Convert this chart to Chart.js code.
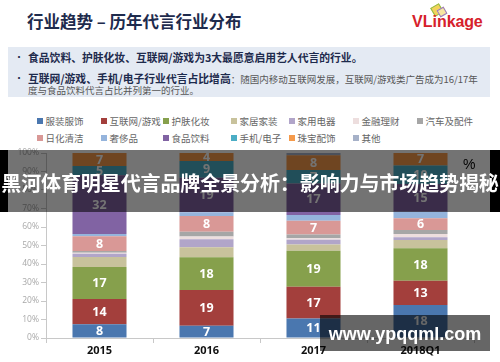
<!DOCTYPE html>
<html>
<head>
<meta charset="utf-8">
<script src="https://cdn.jsdelivr.net/npm/chart.js@4.4.1/dist/chart.umd.min.js"></script>
<style>
  html, body { margin:0; padding:0; background:#fff; }
  body { width:500px; height:362px; position:relative; overflow:hidden; font-family:"Noto Sans CJK SC","Noto Sans",sans-serif; }
  .abs { position:absolute; white-space:nowrap; }
  #title { left:27px; top:8px; font-size:16.5px; font-weight:700; color:#1e2b4d; line-height:26px; }
  #logo { left:412px; top:12px; font-family:"Liberation Sans",Arial,sans-serif; font-size:16px; color:#d6212b; line-height:20px; }
  #logo b { font-weight:700; }
  #logo span { font-weight:700; letter-spacing:-0.2px; }
  .ico { position:absolute; width:8px; height:8px; transform:rotate(-30deg); }
  #box { left:8px; top:47px; width:482px; height:50px; background:#e4eaf3; }
  .ln { position:absolute; left:20px; white-space:nowrap; color:#575757; font-size:9.5px; line-height:12px; }
  .ln b { color:#1e2b4d; font-size:10.8px; font-weight:700; }
  .bul { position:absolute; left:6px; color:#1e2b4d; font-size:10px; line-height:12px; }
  .lg { position:absolute; white-space:nowrap; font-size:9.5px; color:#666; line-height:12px; }
  .lg i { display:inline-block; width:6px; height:6px; margin-right:2.5px; vertical-align:1px; }
  #chartWrap { position:absolute; left:0; top:145px; width:500px; height:217px; }
  #pct { left:463px; top:156px; font-size:14px; color:#000; font-family:"Liberation Sans",Arial,sans-serif; }
  #banner { left:0; top:150px; width:500px; height:62px; background:rgba(0,0,0,0.55); }
  #banner .edgeL { position:absolute; left:0; top:0; width:8px; height:62px; background:#000; }
  #banner .edgeR { position:absolute; right:0; top:0; width:10px; height:62px; background:#000; }
  #bannerText { left:0; top:168px; width:500px; text-align:center; font-size:20px; font-weight:700; color:#fff; line-height:30px; letter-spacing:-0.1px; }
  #wm { left:320px; top:315px; width:170px; height:36px; background:rgba(0,0,0,0.6); }
  #wmText { left:320px; top:323px; width:170px; text-align:center; font-family:"Liberation Sans",Arial,sans-serif; font-size:18px; font-weight:700; color:#fff; line-height:22px; }
</style>
</head>
<body>
<div id="title" class="abs">行业趋势 – 历年代言行业分布</div>
<div class="ico" style="left:432px;top:5px;border:1.5px solid #8dbb4a;background:#f3d35a;"></div>
<div class="ico" style="left:438px;top:8px;border:1.5px solid #9a7bc0;background:#f7e7a0;width:6px;height:6px;"></div>
<div id="logo" class="abs"><b>VLink</b><span>age</span></div>

<div id="box" class="abs">
  <div class="bul" style="top:4px;">•</div>
  <div class="ln" style="top:4px;"><b>食品饮料、护肤化妆、互联网/游戏为3大最愿意启用艺人代言的行业。</b></div>
  <div class="bul" style="top:25px;">•</div>
  <div class="ln" style="top:25px;"><b>互联网/游戏、手机/电子行业代言占比增高</b>：随国内移动互联网发展，互联网/游戏类广告成为16/17年</div>
  <div class="ln" style="top:37px;">度与食品饮料代言占比并列第一的行业。</div>
</div>

<div id="legend"></div>

<div id="chartWrap"><canvas id="c"></canvas></div>
<div id="pct" class="abs">%</div>

<div id="banner" class="abs"><div class="edgeL"></div><div class="edgeR"></div></div>
<div id="bannerText" class="abs">黑河体育明星代言品牌全景分析：影响力与市场趋势揭秘</div>
<div id="wm" class="abs"></div>
<div id="wmText" class="abs">www.ypqqml.com</div>

<script>
// ---- data (percent share) ----
const categories = ['2015', '2016', '2017', '2018Q1'];
const seriesNames = ['服装服饰','互联网/游戏','护肤化妆','家居家装','家用电器','金融理财','汽车及配件','日化清洁','奢侈品','食品饮料','手机/电子','珠宝配饰','其他'];
const apparel      = [7.5, 6.6, 10.6, 17.8];
const internetGame = [13.6, 19.4, 17.1, 13.2];
const skincare     = [17.3, 17.6, 19.4, 17.5];
const homeDecor    = [5.4, 5.4, 3.5, 4.5];
const appliances   = [1.7, 4.4, 2.5, 1.4];
const finance      = [0.6, 1.4, 0.8, 1.8];
const autos        = [0.9, 2.7, 2.1, 2.2];
const dailyCare    = [8.0, 8.4, 7.4, 6.3];
const luxury       = [1.2, 2.1, 3.1, 3.6];
const foodDrink    = [31.8, 18.6, 17.0, 15.0];
const phones       = [5.0, 9.1, 7.3, 10.0];
const jewelry      = [7.0, 4.3, 8.0, 6.7];
const others       = [0.0, 0.0, 1.2, 0.0];
const yTickLabels  = ['0%','10%','20%','30%','40%','50%','60%','70%','80%','90%','100%'];

const seriesValues = [apparel, internetGame, skincare, homeDecor, appliances, finance, autos, dailyCare, luxury, foodDrink, phones, jewelry, others];
const seriesColors = ['#4a77af','#a33f3c','#86a04c','#c8c29c','#b1a5c9','#eddede','#a6a6a6','#d99896','#95b4dc','#8163a3','#4badc5','#f59a4b','#a6b1c8'];
const labelled     = [true, true, true, false, false, false, false, true, false, true, true, true, false];

// ---- legend (HTML, built from series) ----
const legendCols = [37, 101, 163, 231, 289, 353, 417];
const legend = document.getElementById('legend');
seriesNames.forEach((n, i) => {
  const d = document.createElement('div');
  d.className = 'lg';
  d.style.left = legendCols[i % 7] + 'px';
  d.style.top = (i < 7 ? 114.5 : 132) + 'px';
  d.innerHTML = '<i style="background:' + seriesColors[i] + '"></i>' + n;
  legend.appendChild(d);
});

const segLabels = {
  id: 'segLabels',
  afterDatasetsDraw(chart) {
    const ctx = chart.ctx;
    chart.data.datasets.forEach((ds, i) => {
      if (!ds.showLabel) return;
      const meta = chart.getDatasetMeta(i);
      meta.data.forEach((bar, j) => {
        const v = ds.data[j];
        if (!v) return;
        const p = bar.getProps(['x', 'y', 'base'], true);
        ctx.save();
        ctx.fillStyle = '#ffffff';
        ctx.font = 'bold 12.5px "Open Sans", sans-serif';
        ctx.textAlign = 'center';
        ctx.textBaseline = 'middle';
        ctx.fillText(String(Math.round(v)), p.x, (p.y + p.base) / 2 + 0.5);
        ctx.restore();
      });
    });
  }
};

new Chart(document.getElementById('c'), {
  type: 'bar',
  data: {
    labels: categories,
    datasets: seriesNames.map((n, i) => ({
      label: n,
      data: seriesValues[i],
      backgroundColor: seriesColors[i],
      borderWidth: 0,
      showLabel: labelled[i],
      categoryPercentage: 1,
      barPercentage: 0.505
    }))
  },
  options: {
    responsive: true,
    maintainAspectRatio: false,
    animation: false,
    layout: { padding: { top: 8, right: 26, left: 0, bottom: 0 } },
    plugins: { legend: { display: false }, tooltip: { enabled: false } },
    scales: {
      x: {
        stacked: true,
        grid: { display: true, drawOnChartArea: false, drawTicks: true, tickLength: 5, color: '#c8c8c8', offset: true },
        border: { display: true, color: '#c8c8c8' },
        ticks: { color: '#111', font: { family: '"Open Sans", sans-serif', size: 11, weight: 'bold' }, padding: 1 },
        afterFit(s) { s.height = 24; }
      },
      y: {
        stacked: true,
        min: 0, max: 100,
        grid: { display: true, drawOnChartArea: false, drawTicks: true, tickLength: 5, color: '#c8c8c8' },
        border: { display: true, color: '#c8c8c8' },
        ticks: {
          stepSize: 10,
          color: '#a8a8a8',
          font: { family: '"Open Sans", sans-serif', size: 8.5 },
          padding: 2,
          callback: (v) => yTickLabels[Math.round(v / 10)]
        },
        afterFit(s) { s.width = 46; }
      }
    }
  },
  plugins: [segLabels]
});
</script>
</body>
</html>
